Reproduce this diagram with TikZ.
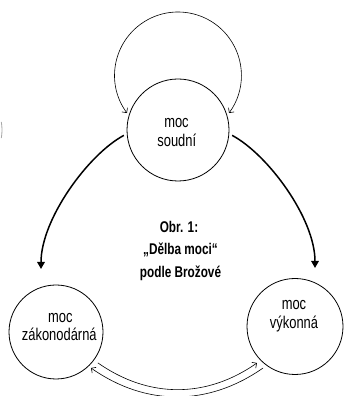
\documentclass[tikz,border=0pt]{standalone}
\usepackage{fontspec}
\setmainfont{Liberation Sans}[FakeStretch=0.76]
\usetikzlibrary{arrows.meta,calc}
\begin{document}
\begin{tikzpicture}[x=1pt,y=1pt,
  circ/.style={draw, circle, line width=0.8pt, inner sep=0pt},
  lbl/.style={anchor=base, inner sep=0pt, font=\fontsize{17}{19}\selectfont},
  ttl/.style={anchor=base, inner sep=0pt, font=\fontsize{15.5}{18}\selectfont\bfseries},
  bigarrow/.style={line width=1.5pt, -{Triangle[width=7.5pt,length=7pt]}},
  thinarr/.style={line width=0.6pt},
  barb/.tip={Straight Barb[length=3.5pt,width=7pt,line width=0.6pt]}
]
\useasboundingbox (0,0) rectangle (344,396);
% circles
\node[circ, minimum size=102pt] (S) at (178,266) {};
\node[circ, minimum size=94pt] (L) at (56,64) {};
\node[circ, minimum size=96pt] (R) at (295,69.5) {};
% labels
\node[lbl] (S1) at (176.5,268.3) {moc};
\node[lbl] (S2) at (176.8,249.3) {soudní};
\node[lbl] (L1) at (60.3,73.3) {moc};
\node[lbl] (L2) at (59.3,55.3) {zákonodárná};
\node[lbl] (R1) at (294,86) {moc};
\node[lbl] (R2) at (294,67) {výkonná};
\node[ttl] (T1) at (179,163.3) {Obr. 1:};
\node[ttl] (T2) at (180.5,141) {„Dělba moci“};
\node[ttl] (T3) at (180.5,118) {podle Brožové};
% self loop on S
\coordinate (lc) at ($(S.center)+(0,54.6)$);
\draw[thinarr, barb-barb] ($(lc)+(216.4:63.4)$) arc[start angle=216.4, end angle=-36.4, radius=63.4];
% thick arrows
\coordinate (Ltip) at (41,127);
\coordinate (Rtip) at (315,128);
\draw[bigarrow] ([xshift=-3pt]S.186) .. controls +(208:40) and +(90:50) .. (Ltip);
\draw[bigarrow] ([xshift=3pt]S.-6) .. controls +(-28:40) and +(90:50) .. (Rtip);
% bottom arrows
\coordinate (a1) at ($(L.center)+(-36.4:52)$);
\coordinate (a2) at ($(R.center)+(223.8:52.7)$);
\coordinate (b1) at ($(R.center)+(-127.6:52.4)$);
\coordinate (b2) at ($(L.center)+(-45.8:50.2)$);
\draw[thinarr, -barb] (a1) to[bend right=35] (a2);
\draw[thinarr, -barb] (b1) to[bend left=35] (b2);
% partial circle at left edge
\draw[gray!70, line width=0.8pt] ($(-45,266)+(-10:47)$) arc[start angle=-10, end angle=10, radius=47];
\end{tikzpicture}
\end{document}
